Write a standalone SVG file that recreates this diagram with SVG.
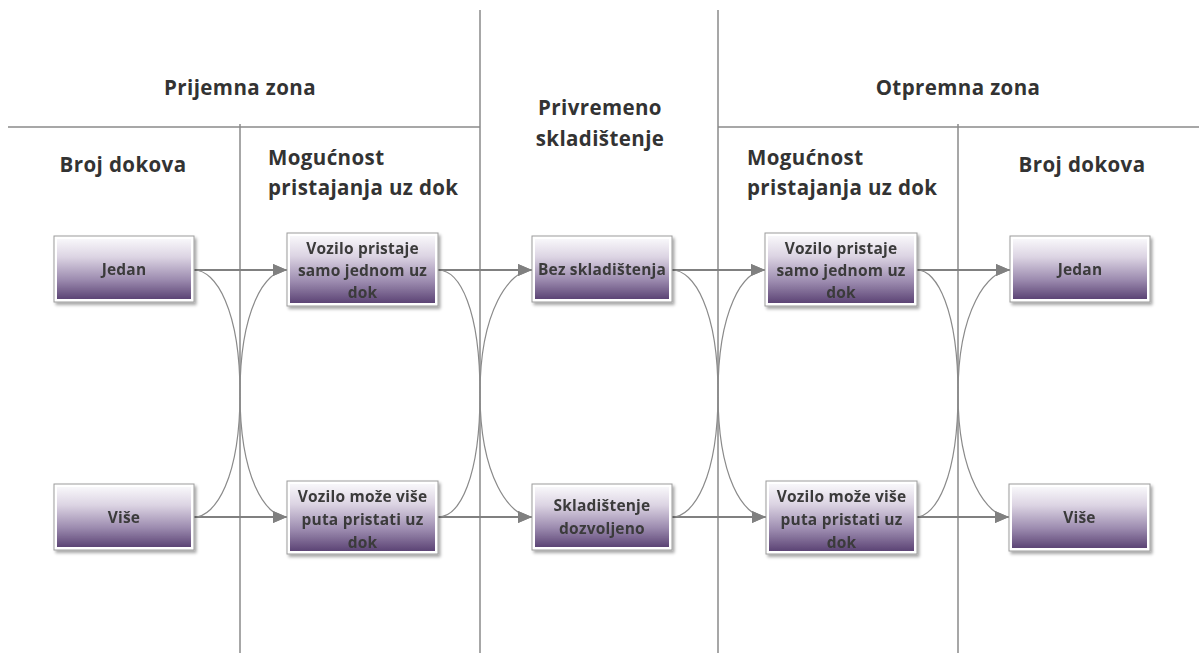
<svg xmlns="http://www.w3.org/2000/svg" width="1199" height="653" viewBox="0 0 1199 653">
<style>
.hdr{font-family:"Open Sans","Liberation Sans",sans-serif;font-weight:700;font-size:20.5px;letter-spacing:0.4px;fill:#333333;text-anchor:middle}
.hdrl{font-family:"Open Sans","Liberation Sans",sans-serif;font-weight:700;font-size:20.5px;letter-spacing:0.4px;fill:#333333}
.bt{font-family:"Open Sans","Liberation Sans",sans-serif;font-weight:700;font-size:15.5px;letter-spacing:0.2px;fill:#3a3a3a;text-anchor:middle}
.div{stroke:#8a8a8a;stroke-width:1.5;fill:none}
.outer{fill:#ffffff;stroke:#9c9c9c;stroke-width:1}
.inner{fill:url(#g)}
.straight{stroke:#808080;stroke-width:2;fill:none;marker-end:url(#ah)}
.curve{stroke:#8a8a8a;stroke-width:1.2;fill:none;marker-end:url(#ah)}
</style>
<defs>
<linearGradient id="g" x1="0" y1="0" x2="0" y2="1">
<stop offset="0" stop-color="#f8f7fa"/>
<stop offset="0.3" stop-color="#dcd4e3"/>
<stop offset="0.68" stop-color="#9c8baf"/>
<stop offset="1" stop-color="#5c4475"/>
</linearGradient>
<filter id="sh" x="-10%" y="-10%" width="130%" height="140%">
<feDropShadow dx="2" dy="2.5" stdDeviation="1.5" flood-color="#000000" flood-opacity="0.35"/>
</filter>
<marker id="ah" viewBox="0 0 14 12" refX="14" refY="6" markerWidth="14" markerHeight="12" markerUnits="userSpaceOnUse" orient="auto">
<path d="M0,0 L14,6 L0,12 Z" fill="#808080"/>
</marker>
</defs>
<rect width="1199" height="653" fill="#ffffff"/>

<g id="dividers">
<line class="div" x1="8" y1="127" x2="480" y2="127"/>
<line class="div" x1="718" y1="127" x2="1199" y2="127"/>
<line class="div" x1="240" y1="124" x2="240" y2="653"/>
<line class="div" x1="480" y1="10" x2="480" y2="653"/>
<line class="div" x1="718" y1="10" x2="718" y2="653"/>
<line class="div" x1="958" y1="124" x2="958" y2="653"/>
</g>

<g id="headers">
<text class="hdr" x="240" y="95">Prijemna zona</text>
<text class="hdr" x="958" y="95">Otpremna zona</text>
<text class="hdr" x="600" y="115">Privremeno</text>
<text class="hdr" x="600" y="146">skladištenje</text>
<text class="hdr" x="123" y="172">Broj dokova</text>
<text class="hdr" x="1082" y="172">Broj dokova</text>
<text class="hdrl" x="268" y="165">Mogućnost</text>
<text class="hdrl" x="268" y="195">pristajanja uz dok</text>
<text class="hdrl" x="747" y="165">Mogućnost</text>
<text class="hdrl" x="747" y="195">pristajanja uz dok</text>
</g>

<g id="connectors">
<path class="straight" d="M194,270 L287,270"/>
<path class="straight" d="M194,517 L287,517"/>
<path class="straight" d="M438,270 L532,270"/>
<path class="straight" d="M438,517 L532,517"/>
<path class="straight" d="M672,270 L765,270"/>
<path class="straight" d="M672,517 L766,517"/>
<path class="straight" d="M917,270 L1010,270"/>
<path class="straight" d="M916,517 L1009,517"/>

<path class="curve" d="M194,270 C216,270 240,310 240,393.5 S265,517 287,517"/>
<path class="curve" d="M194,517 C216,517 240,477 240,393.5 S265,270 287,270"/>
<path class="curve" d="M438,270 C460,270 480,310 480,393.5 S510,517 532,517"/>
<path class="curve" d="M438,517 C460,517 480,477 480,393.5 S510,270 532,270"/>
<path class="curve" d="M672,270 C694,270 718,310 718,393.5 S743,517 766,517"/>
<path class="curve" d="M672,517 C694,517 718,477 718,393.5 S743,270 765,270"/>
<path class="curve" d="M917,270 C937,270 958,310 958,393.5 S988,517 1009,517"/>
<path class="curve" d="M916,517 C936,517 958,477 958,393.5 S988,270 1010,270"/>
</g>

<g id="n-jedan-l" filter="url(#sh)">
<rect class="outer" x="54" y="236" width="140" height="66"/>
<rect class="inner" x="57" y="239" width="134" height="60"/>
<text class="bt" x="124" y="275">Jedan</text>
</g>
<g id="n-vise-l" filter="url(#sh)">
<rect class="outer" x="54" y="484" width="140" height="66"/>
<rect class="inner" x="57" y="487" width="134" height="60"/>
<text class="bt" x="124" y="523">Više</text>
</g>
<g id="n-vp-l" filter="url(#sh)">
<rect class="outer" x="287" y="233" width="151" height="73"/>
<rect class="inner" x="290" y="236" width="145" height="67"/>
<text class="bt" x="362.5" y="254">Vozilo pristaje</text>
<text class="bt" x="362.5" y="276">samo jednom uz</text>
<text class="bt" x="362.5" y="298">dok</text>
</g>
<g id="n-vm-l" filter="url(#sh)">
<rect class="outer" x="287" y="481" width="151" height="73"/>
<rect class="inner" x="290" y="484" width="145" height="67"/>
<text class="bt" x="362.5" y="502">Vozilo može više</text>
<text class="bt" x="362.5" y="525">puta pristati uz</text>
<text class="bt" x="362.5" y="548">dok</text>
</g>
<g id="n-bez" filter="url(#sh)">
<rect class="outer" x="532" y="236" width="140" height="66"/>
<rect class="inner" x="535" y="239" width="134" height="60"/>
<text class="bt" x="602" y="275">Bez skladištenja</text>
</g>
<g id="n-skl" filter="url(#sh)">
<rect class="outer" x="532" y="484" width="140" height="66"/>
<rect class="inner" x="535" y="487" width="134" height="60"/>
<text class="bt" x="602" y="511">Skladištenje</text>
<text class="bt" x="602" y="534">dozvoljeno</text>
</g>
<g id="n-vp-r" filter="url(#sh)">
<rect class="outer" x="765" y="233" width="152" height="73"/>
<rect class="inner" x="768" y="236" width="146" height="67"/>
<text class="bt" x="841" y="254">Vozilo pristaje</text>
<text class="bt" x="841" y="276">samo jednom uz</text>
<text class="bt" x="841" y="298">dok</text>
</g>
<g id="n-vm-r" filter="url(#sh)">
<rect class="outer" x="766" y="481" width="151" height="73"/>
<rect class="inner" x="769" y="484" width="145" height="67"/>
<text class="bt" x="841.5" y="502">Vozilo može više</text>
<text class="bt" x="841.5" y="525">puta pristati uz</text>
<text class="bt" x="841.5" y="548">dok</text>
</g>
<g id="n-jedan-r" filter="url(#sh)">
<rect class="outer" x="1010" y="236" width="140" height="66"/>
<rect class="inner" x="1013" y="239" width="134" height="60"/>
<text class="bt" x="1080" y="275">Jedan</text>
</g>
<g id="n-vise-r" filter="url(#sh)">
<rect class="outer" x="1009" y="484" width="141" height="67"/>
<rect class="inner" x="1012" y="487" width="135" height="61"/>
<text class="bt" x="1079.5" y="523">Više</text>
</g>
</svg>
